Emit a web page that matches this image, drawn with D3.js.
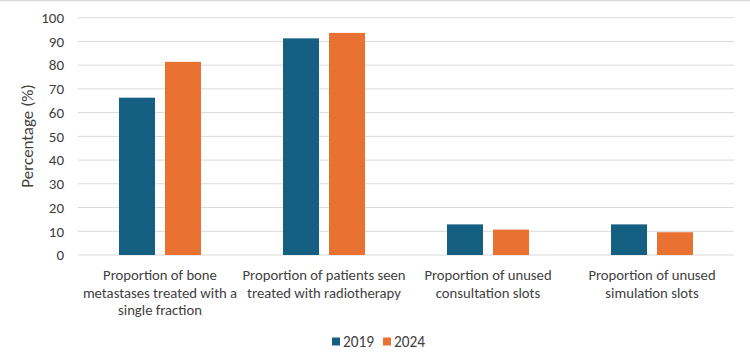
<!DOCTYPE html>
<meta charset="utf-8">
<script src="https://d3js.org/d3.v7.min.js"></script>
<style>
  body { margin: 0; background: #fff; }
  text { font-family: Carlito, Roboto, "Liberation Sans", sans-serif; fill: #404040; }
</style>
<div id="chart"></div>
<script>
// data
var categories = ["bone", "patients", "consult", "sim"];
var categoryLabels = [
  ["Proportion of bone", "metastases treated with a", "single fraction"],
  ["Proportion of patients seen", "treated with radiotherapy"],
  ["Proportion of unused", "consultation slots"],
  ["Proportion of unused", "simulation slots"]
];
var seriesNames = ["2019", "2024"];
var values2019 = [66.3, 91.3, 12.9, 12.9];
var values2024 = [81.4, 93.6, 10.7, 9.6];
var yTicks = [0, 10, 20, 30, 40, 50, 60, 70, 80, 90, 100];
var colors = ["#156082", "#e97132"];

var W = 750, H = 363;
var margin = {top: 17.7, right: 16, bottom: 108, left: 78};
var width = W - margin.left - margin.right,
    height = H - margin.top - margin.bottom;

var svg = d3.select("#chart").append("svg")
  .attr("width", W).attr("height", H);

// frame line along the top
svg.append("line")
  .attr("x1", 0).attr("x2", W).attr("y1", 0.5).attr("y2", 0.5)
  .attr("stroke", "#d9d9d9").attr("stroke-width", 1.5);

var g = svg.append("g")
  .attr("transform", "translate(" + margin.left + "," + margin.top + ")");

var x = d3.scaleBand().domain(categories).range([0, width]);
var y = d3.scaleLinear().domain([0, 100]).range([height, 0]);

// gridlines
g.selectAll(".grid").data(yTicks).enter().append("line")
  .attr("x1", 0).attr("x2", width)
  .attr("y1", function(d) { return y(d); })
  .attr("y2", function(d) { return y(d); })
  .attr("stroke", "#d9d9d9").attr("stroke-width", 1);

// y axis labels
var yAxis = g.append("g").call(d3.axisLeft(y).tickValues(yTicks).tickSize(0).tickPadding(14));
yAxis.select(".domain").remove();
yAxis.selectAll("text").attr("font-size", 15).style("font-family", null);

// bars
var data = categories.map(function(c, i) {
  return {cat: c, vals: [values2019[i], values2024[i]]};
});
var barW = 36, gap = 10;
var grp = g.selectAll(".cat").data(data).enter().append("g")
  .attr("transform", function(d) { return "translate(" + (x(d.cat) + x.bandwidth() / 2) + ",0)"; });
grp.selectAll("rect").data(function(d) { return d.vals; }).enter().append("rect")
  .attr("x", function(d, i) { return i === 0 ? -gap / 2 - barW : gap / 2; })
  .attr("y", function(d) { return y(d); })
  .attr("width", barW)
  .attr("height", function(d) { return height - y(d); })
  .attr("fill", function(d, i) { return colors[i]; });

// category labels
var labs = g.selectAll(".lab").data(categories).enter().append("text")
  .attr("text-anchor", "middle")
  .attr("font-size", 14.7)
  .attr("transform", function(d) { return "translate(" + (x(d) + x.bandwidth() / 2) + "," + (height + 25) + ")"; });
labs.selectAll("tspan").data(function(d, i) { return categoryLabels[i]; }).enter().append("tspan")
  .attr("x", 0)
  .attr("dy", function(d, i) { return i === 0 ? 0 : 17.6; })
  .text(function(d) { return d; });

// y axis title
svg.append("text")
  .attr("transform", "translate(33," + 136 + ") rotate(-90)")
  .attr("text-anchor", "middle")
  .attr("font-size", 17)
  .text("Percentage (%)");

// legend
var legend = svg.append("g").attr("transform", "translate(332,341.5)");
var items = legend.selectAll("g").data(seriesNames).enter().append("g")
  .attr("transform", function(d, i) { return "translate(" + (i * 51) + ",0)"; });
items.append("rect")
  .attr("x", 0).attr("y", -4).attr("width", 8).attr("height", 8)
  .attr("fill", function(d, i) { return colors[i]; });
items.append("text")
  .attr("x", 11).attr("y", 0).attr("dy", "0.35em")
  .attr("font-size", 15.3)
  .text(function(d) { return d; });
</script>
